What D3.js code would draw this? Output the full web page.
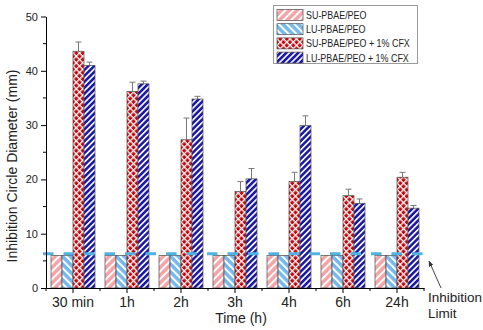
<!DOCTYPE html>
<html>
<head>
<meta charset="utf-8">
<script src="https://cdn.jsdelivr.net/npm/d3@7"></script>
<style>
  html, body { margin: 0; padding: 0; background: #fff; }
  svg { display: block; }
  text { font-family: "Liberation Sans", Arial, sans-serif; fill: #222; }
</style>
</head>
<body>
<div id="chart"></div>
<script>
// time points and sample groups
const times = ["30 min", "1h", "2h", "3h", "4h", "6h", "24h"];
const series = ["SU-PBAE/PEO", "LU-PBAE/PEO", "SU-PBAE/PEO + 1% CFX", "LU-PBAE/PEO + 1% CFX"];

// mean inhibition diameter (mm) per series, one value per time point
const suPeo   = [6.0, 6.0, 6.0, 6.0, 6.0, 6.0, 6.0];
const luPeo   = [6.0, 6.0, 6.0, 6.0, 6.0, 6.0, 6.0];
const suCfx   = [43.6, 36.2, 27.3, 17.8, 19.6, 17.0, 20.4];
const luCfx   = [41.0, 37.6, 34.8, 20.1, 29.9, 15.6, 14.7];

// upper error (standard deviation)
const suPeoErr = [0, 0, 0, 0, 0, 0, 0];
const luPeoErr = [0, 0, 0, 0, 0, 0, 0];
const suCfxErr = [1.7, 1.7, 4.0, 1.8, 1.7, 1.2, 0.9];
const luCfxErr = [0.6, 0.5, 0.5, 1.9, 1.8, 0.8, 0.5];

const inhibitionLimit = 6.3;
const yTicks = [0, 10, 20, 30, 40, 50];

document.addEventListener('DOMContentLoaded', function() {

    const width = 483, height = 330;

    const svg = d3.select("#chart")
        .append("svg")
        .attr("width", width)
        .attr("height", height);

    const values = [suPeo, luPeo, suCfx, luCfx];
    const errors = [suPeoErr, luPeoErr, suCfxErr, luCfxErr];

    const x = d3.scaleBand().domain(times).range([46, 424]);
    const inner = d3.scaleBand().domain(series).range([-22, 22]);
    const y = d3.scaleLinear().domain([0, 50]).range([288, 16.5]);

    // fill patterns for each series
    const defs = svg.append("defs");

    function stripes(id, bg, size, lineW, angle) {
        const p = defs.append("pattern")
            .attr("id", id)
            .attr("patternUnits", "userSpaceOnUse")
            .attr("width", size)
            .attr("height", size)
            .attr("patternTransform", `rotate(${angle})`);
        p.append("rect").attr("width", size).attr("height", size).attr("fill", bg);
        p.append("rect").attr("x", 0).attr("width", lineW).attr("height", size).attr("fill", "#fff");
    }
    stripes("pat-su", "#f4a3a6", 5.5, 2, 45);
    stripes("pat-lu", "#74b9ec", 5.5, 2, -45);
    stripes("pat-lucfx", "#1c1aa6", 4.2, 1.6, 45);

    const hatch = defs.append("pattern")
        .attr("id", "pat-sucfx")
        .attr("patternUnits", "userSpaceOnUse")
        .attr("width", 4.6)
        .attr("height", 4.6)
        .attr("patternTransform", "rotate(45)");
    hatch.append("rect").attr("width", 4.6).attr("height", 4.6).attr("fill", "#c4070d");
    hatch.append("rect").attr("width", 1.3).attr("height", 4.6).attr("fill", "#fff");
    hatch.append("rect").attr("width", 4.6).attr("height", 1.3).attr("fill", "#fff");

    const fills = ["url(#pat-su)", "url(#pat-lu)", "url(#pat-sucfx)", "url(#pat-lucfx)"];

    // bars
    const groups = svg.append("g")
        .selectAll("g")
        .data(times)
        .enter().append("g")
        .attr("transform", t => `translate(${x(t) + x.bandwidth() / 2},0)`);

    groups.each(function(t, i) {
        const g = d3.select(this);
        series.forEach((s, k) => {
            const v = values[k][i];
            const e = errors[k][i];
            const bx = inner(s);
            const bw = inner.bandwidth();
            if (e > 0) {
                const cx = bx + bw / 2;
                g.append("line")
                    .attr("x1", cx).attr("x2", cx)
                    .attr("y1", y(v)).attr("y2", y(v + e))
                    .attr("stroke", "#777").attr("stroke-width", 1);
                g.append("line")
                    .attr("x1", cx - 3).attr("x2", cx + 3)
                    .attr("y1", y(v + e)).attr("y2", y(v + e))
                    .attr("stroke", "#777").attr("stroke-width", 1);
            }
            g.append("rect")
                .attr("x", bx)
                .attr("y", y(v))
                .attr("width", bw)
                .attr("height", y(0) - y(v))
                .attr("fill", fills[k])
                .attr("stroke", "#4a4a4a")
                .attr("stroke-width", 0.7);
        });
    });

    // dashed inhibition limit
    svg.append("line")
        .attr("x1", 43).attr("x2", 430)
        .attr("y1", y(inhibitionLimit)).attr("y2", y(inhibitionLimit))
        .attr("stroke", "#4fb2e2")
        .attr("stroke-width", 3)
        .attr("stroke-dasharray", "10.5,10");

    // y axis
    const yAxis = svg.append("g")
        .attr("transform", "translate(46,0)")
        .call(d3.axisLeft(y).tickValues(yTicks).tickSize(5).tickSizeOuter(0).tickPadding(3));
    yAxis.selectAll("text").style("font-size", "11px").attr("fill", "#222");
    yAxis.selectAll("g.minor")
        .data(d3.range(5, 50, 10))
        .enter().append("line")
        .attr("y1", d => y(d)).attr("y2", d => y(d))
        .attr("x1", -3).attr("x2", 0)
        .attr("stroke", "#000");

    // x axis
    const xAxis = svg.append("g")
        .attr("transform", "translate(0,288)")
        .call(d3.axisBottom(x).tickSize(5).tickSizeOuter(0).tickPadding(4));
    xAxis.selectAll("text").style("font-size", "14px").attr("fill", "#222");
    xAxis.selectAll("line.minor")
        .data(times.map(t => x(t)).concat([x.range()[1]]))
        .enter().append("line")
        .attr("class", "minor")
        .attr("x1", d => d).attr("x2", d => d)
        .attr("y1", 0).attr("y2", 3)
        .attr("stroke", "#000");

    // axis titles
    svg.append("text")
        .attr("transform", "translate(17,166) rotate(-90)")
        .attr("text-anchor", "middle")
        .style("font-size", "14px")
        .text("Inhibition Circle Diameter (mm)");

    svg.append("text")
        .attr("x", 241)
        .attr("y", 323)
        .attr("text-anchor", "middle")
        .style("font-size", "14px")
        .text("Time (h)");

    // annotation for the limit line
    defs.append("marker")
        .attr("id", "arrow")
        .attr("viewBox", "0 0 10 10")
        .attr("refX", 9).attr("refY", 5)
        .attr("markerWidth", 6).attr("markerHeight", 6)
        .attr("orient", "auto")
        .append("path")
        .attr("d", "M0,1 L10,5 L0,9 Z")
        .attr("fill", "#333");

    svg.append("line")
        .attr("x1", 441).attr("y1", 288)
        .attr("x2", 429).attr("y2", 261)
        .attr("stroke", "#444")
        .attr("stroke-width", 1)
        .attr("marker-end", "url(#arrow)");

    svg.append("text")
        .attr("x", 428).attr("y", 302)
        .style("font-size", "13.5px")
        .text("Inhibition");
    svg.append("text")
        .attr("x", 428).attr("y", 318)
        .style("font-size", "13.5px")
        .text("Limit");

    // legend
    const legend = svg.append("g");
    legend.append("rect")
        .attr("x", 273.5).attr("y", 5.5)
        .attr("width", 144).attr("height", 58)
        .attr("fill", "#fff")
        .attr("stroke", "#9a9a9a");

    const item = legend.selectAll("g.item")
        .data(series)
        .enter().append("g")
        .attr("class", "item")
        .attr("transform", (d, i) => `translate(277,${9.5 + i * 14.2})`);

    item.append("rect")
        .attr("width", 26).attr("height", 11)
        .attr("fill", (d, i) => fills[i])
        .attr("stroke", "#4a4a4a")
        .attr("stroke-width", 0.7);

    // condensed label text
    item.append("text")
        .attr("transform", "translate(29,9.5) scale(0.85,1)")
        .style("font-size", "10.5px")
        .text(d => d);
});
</script>
</body>
</html>
